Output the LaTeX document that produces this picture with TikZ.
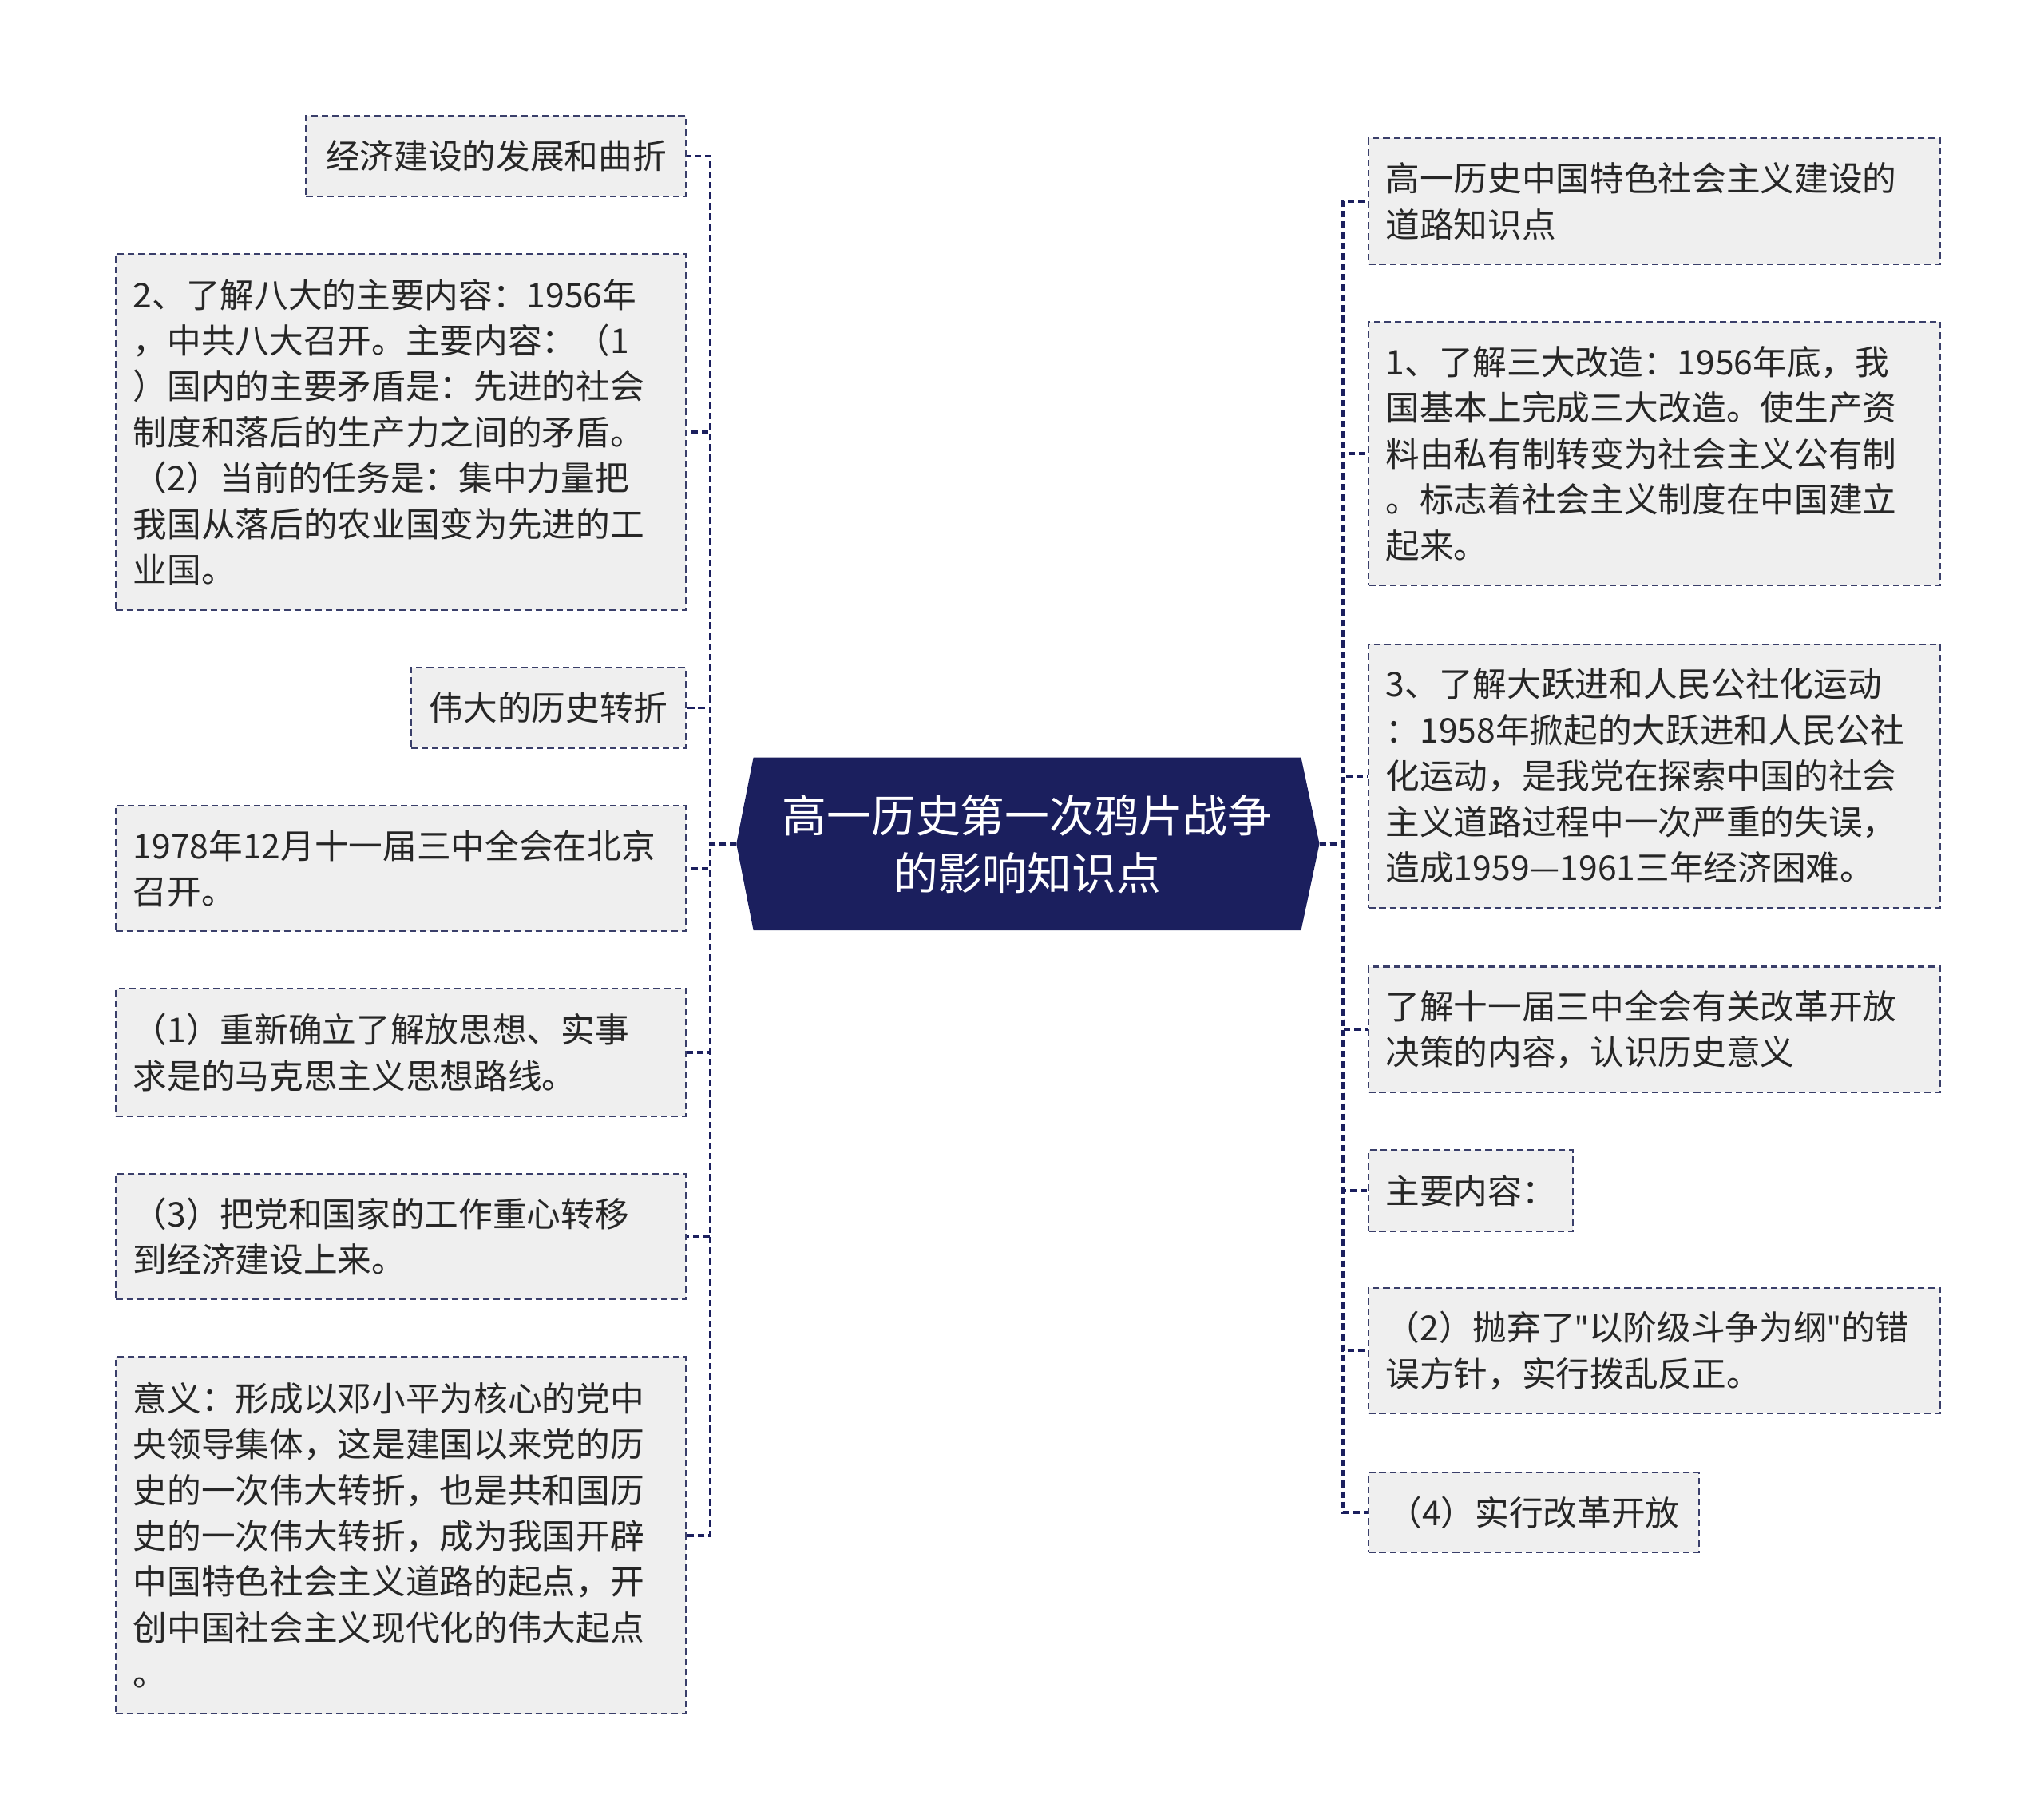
\documentclass[tikz,border=0pt]{standalone}
\usepackage{fontspec}
\setmainfont{Noto Sans CJK SC}[Ligatures=TeXOff]
\newfontfamily\latq{Noto Sans}[Ligatures=TeXOff]
\usetikzlibrary{shapes.geometric}
\definecolor{navy}{HTML}{1B1F5E}
\definecolor{boxfill}{HTML}{EFEFEF}
\definecolor{boxline}{HTML}{3A3F6A}
\begin{document}
\begin{tikzpicture}[x=1pt,y=-1pt,
  leaf/.style={draw=boxline,fill=boxfill,dashed,line width=1.3pt,dash pattern=on 5pt off 3pt,
     anchor=north west,inner xsep=13pt,inner ysep=0pt,align=left,
     font=\fontsize{26}{35}\selectfont,text=black!85},
  conn/.style={draw=navy,line width=2.2pt,dash pattern=on 5pt off 3pt}]
\useasboundingbox (0,0) rectangle (1560,1388);
% center
\fill[navy] (575,578) -- (993,578) -- (1007,644) -- (993,710) -- (575,710) -- (562,644) -- cycle;
\node[text=white,align=center,font=\fontsize{34}{44}\selectfont] (c) at (784,644) {高一历史第一次鸦片战争\\的影响知识点};
\coordinate (cl) at (562,644);
\coordinate (cr) at (1007,644);
% left nodes
\node[leaf,minimum width=290pt,minimum height=61pt] (l1) at (233,88) {经济建设的发展和曲折};
\node[leaf,minimum width=435pt,minimum height=272pt,text width=409pt] (l2) at (88,193) {2、了解八大的主要内容：1956年\\，中共八大召开。主要内容：（1\\）国内的主要矛盾是：先进的社会\\制度和落后的生产力之间的矛盾。\\（2）当前的任务是：集中力量把\\我国从落后的农业国变为先进的工\\业国。};
\node[leaf,minimum width=210pt,minimum height=61pt] (l3) at (313,509) {伟大的历史转折};
\node[leaf,minimum width=435pt,minimum height=96pt,text width=409pt] (l4) at (88,614) {1978年12月十一届三中全会在北京\\召开。};
\node[leaf,minimum width=435pt,minimum height=97pt,text width=409pt] (l5) at (88,754) {（1）重新确立了解放思想、实事\\求是的马克思主义思想路线。};
\node[leaf,minimum width=435pt,minimum height=96pt,text width=409pt] (l6) at (88,895) {（3）把党和国家的工作重心转移\\到经济建设上来。};
\node[leaf,minimum width=435pt,minimum height=272pt,text width=409pt] (l7) at (88,1035) {意义：形成以邓小平为核心的党中\\央领导集体，这是建国以来党的历\\史的一次伟大转折，也是共和国历\\史的一次伟大转折，成为我国开辟\\中国特色社会主义道路的起点，开\\创中国社会主义现代化的伟大起点\\。};
% right nodes
\node[leaf,minimum width=436pt,minimum height=96pt,text width=410pt] (r1) at (1044,105) {高一历史中国特色社会主义建设的\\道路知识点};
\node[leaf,minimum width=436pt,minimum height=201pt,text width=410pt] (r2) at (1044,245) {1、了解三大改造：1956年底，我\\国基本上完成三大改造。使生产资\\料由私有制转变为社会主义公有制\\。标志着社会主义制度在中国建立\\起来。};
\node[leaf,minimum width=436pt,minimum height=201pt,text width=410pt] (r3) at (1044,491) {3、了解大跃进和人民公社化运动\\：1958年掀起的大跃进和人民公社\\化运动，是我党在探索中国的社会\\主义道路过程中一次严重的失误，\\造成1959—1961三年经济困难。};
\node[leaf,minimum width=436pt,minimum height=96pt,text width=410pt] (r4) at (1044,737) {了解十一届三中全会有关改革开放\\决策的内容，认识历史意义};
\node[leaf,minimum width=129pt,minimum height=62pt] (r5) at (1044,877) {主要内容：};
\node[leaf,minimum width=436pt,minimum height=96pt,text width=410pt] (r6) at (1044,982) {（2）抛弃了{\latq "}以阶级斗争为纲{\latq "}的错\\误方针，实行拨乱反正。};
\node[leaf,minimum width=252pt,minimum height=61pt] (r7) at (1044,1123) {（4）实行改革开放};
% connectors
\foreach \n in {l1,l2,l3,l4,l5,l6,l7}{\draw[conn] (cl) -- (542,644) |- (\n.east);}
\foreach \n in {r1,r2,r3,r4,r5,r6,r7}{\draw[conn] (cr) -- (1025,644) |- (\n.west);}
\end{tikzpicture}
\end{document}
